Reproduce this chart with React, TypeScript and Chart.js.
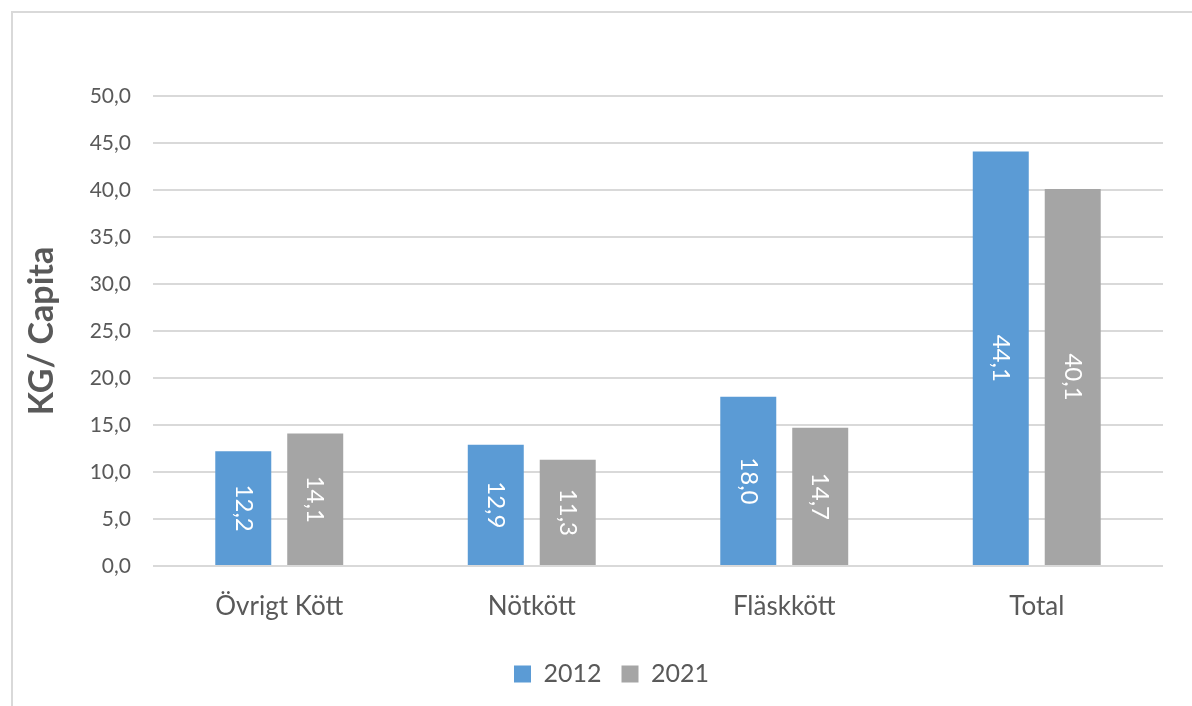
import { useEffect, useRef } from 'react';
import { Chart, registerables } from 'chart.js';

Chart.register(...registerables);

const categories = ['Övrigt Kött', 'Nötkött', 'Fläskkött', 'Total'];
const seriesNames = ['2012', '2021'];
const values2012 = [12.2, 12.9, 18.0, 44.1];
const values2021 = [14.1, 11.3, 14.7, 40.1];
const yMin = 0;
const yMax = 50;
const yStep = 5;
const yTitle = 'KG/ Capita';

const fmt = (v: number) => v.toFixed(1).replace('.', ',');
const FONT = 'Lato, "Open Sans", sans-serif';

const barLabelPlugin = {
  id: 'barLabels',
  afterDatasetsDraw(chart: any) {
    const ctx = chart.ctx;
    chart.data.datasets.forEach((ds: any, i: number) => {
      const meta = chart.getDatasetMeta(i);
      meta.data.forEach((bar: any, j: number) => {
        const { x, y, base } = bar.getProps(['x', 'y', 'base'], true);
        ctx.save();
        ctx.translate(x, (y + base) / 2);
        ctx.rotate(Math.PI / 2);
        ctx.font = `24px ${FONT}`;
        ctx.fillStyle = '#ffffff';
        ctx.textAlign = 'center';
        ctx.textBaseline = 'middle';
        ctx.fillText(fmt(ds.data[j]), 0, 0);
        ctx.restore();
      });
    });
  },
};

const legendShiftPlugin = {
  id: 'legendShift',
  afterLayout(chart: any) {
    const l = chart.legend;
    if (l) {
      l.left += 19;
      l.right += 19;
    }
  },
};

export default function App() {
  const ref = useRef<HTMLCanvasElement | null>(null);

  useEffect(() => {
    if (!ref.current) return;
    const chart = new Chart(ref.current, {
      type: 'bar',
      data: {
        labels: categories,
        datasets: [
          {
            label: seriesNames[0],
            data: values2012,
            backgroundColor: '#5B9BD5',
            borderWidth: 0,
            categoryPercentage: 0.57,
            barPercentage: 0.778,
          },
          {
            label: seriesNames[1],
            data: values2021,
            backgroundColor: '#A5A5A5',
            borderWidth: 0,
            categoryPercentage: 0.57,
            barPercentage: 0.778,
          },
        ],
      },
      options: {
        responsive: false,
        animation: false,
        maintainAspectRatio: false,
        layout: { padding: { top: 83, left: 9, right: 52, bottom: 9.5 } },
        plugins: {
          tooltip: { enabled: false },
          legend: {
            position: 'bottom',
            labels: {
              boxWidth: 17,
              boxHeight: 17,
              padding: 20,
              color: '#595959',
              font: { family: FONT, size: 25 },
            },
          },
        },
        scales: {
          x: {
            grid: { display: false },
            border: { display: false },
            ticks: {
              color: '#595959',
              font: { family: FONT, size: 26 },
              padding: 17,
              maxRotation: 0,
            },
            afterFit: (s: any) => {
              s.height = 75.5;
            },
          },
          y: {
            min: yMin,
            max: yMax,
            border: { display: false },
            grid: { color: '#d9d9d9', lineWidth: 2, drawTicks: false },
            ticks: {
              stepSize: yStep,
              color: '#595959',
              font: { family: FONT, size: 21 },
              padding: 22,
              callback: (v: any) => fmt(Number(v)),
            },
            title: {
              display: true,
              text: yTitle,
              color: '#595959',
              font: { family: FONT, size: 34, weight: 'bold' },
              padding: { top: 0, bottom: 0 },
            },
            afterFit: (s: any) => {
              s.width = 131;
            },
          },
        },
      },
      plugins: [barLabelPlugin, legendShiftPlugin],
    });
    return () => chart.destroy();
  }, []);

  return (
    <div
      style={{
        position: 'fixed',
        left: 0,
        top: 0,
        width: 1192,
        height: 706,
        overflow: 'hidden',
        background: '#ffffff',
      }}
    >
      <div
        style={{
          position: 'absolute',
          left: 11,
          top: 11,
          width: 1202,
          height: 700,
          borderLeft: '2px solid #d9d9d9',
          borderTop: '2px solid #d9d9d9',
        }}
      >
        <canvas ref={ref} width={1202} height={693} style={{ display: 'block' }} />
      </div>
    </div>
  );
}
